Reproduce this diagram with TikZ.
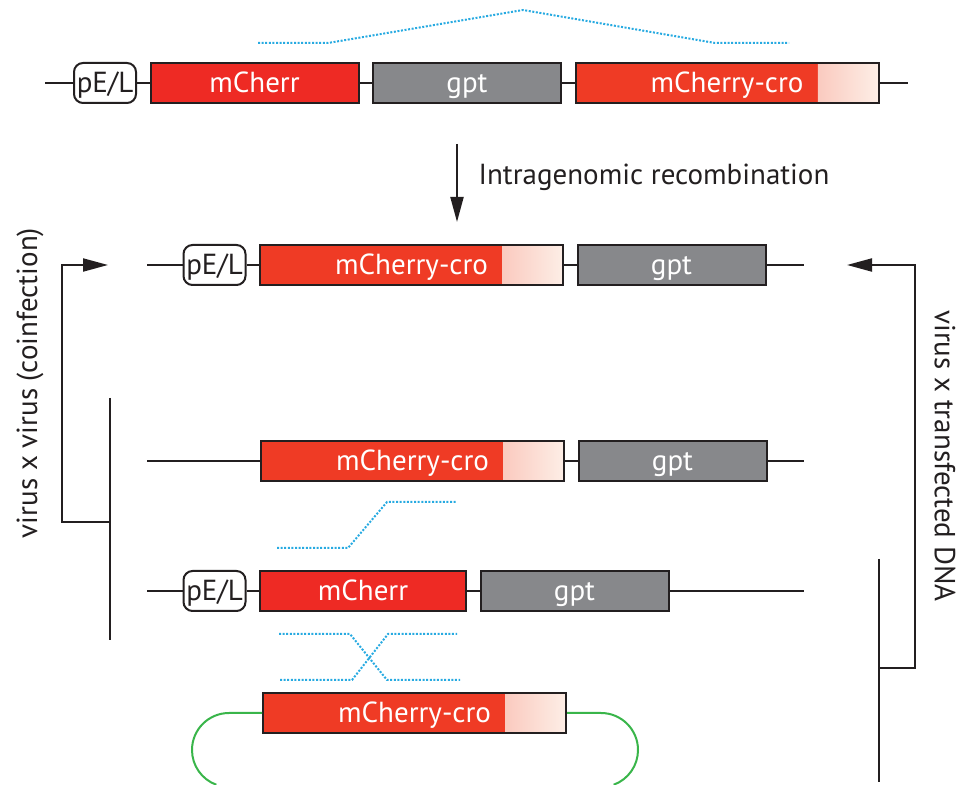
\documentclass[tikz,border=0pt]{standalone}
\usepackage{fontspec}
\setmainfont{PT Sans}
\usetikzlibrary{arrows.meta,positioning,calc}

\definecolor{outline}{RGB}{35,31,32}
\definecolor{mcred}{RGB}{238,42,36}
\definecolor{crored}{RGB}{239,59,37}
\definecolor{cromid}{RGB}{245,150,120}
\definecolor{crofade}{RGB}{253,238,230}
\definecolor{gptgray}{RGB}{135,136,139}
\definecolor{xblue}{RGB}{39,170,225}
\definecolor{plasgreen}{RGB}{57,181,74}

\tikzset{
  >={Triangle[length=12.5pt,width=6.5pt]},
  every picture/.append style={line width=1pt},
}
\newcommand{\genefont}{\fontsize{14.5}{16}\selectfont}
\newcommand{\labelfont}{\fontsize{14.5}{17}\selectfont}

\begin{document}
\begin{tikzpicture}[
  x=0.5pt, y=-0.5pt,
  node distance=6.25pt,
  gene/.style={rectangle, draw=outline, line width=1pt, minimum height=20pt, inner sep=0pt,
    text height=10pt, text depth=0pt, font=\genefont, text=white},
  mcherr/.style={gene, fill=mcred, minimum width=104pt},
  gpt/.style={gene, fill=gptgray, minimum width=94pt},
  crogene/.style={gene, fill=crored, minimum width=151.5pt,
    path picture={\shade[left color=crored, middle color=cromid, right color=crofade]
      ($(path picture bounding box.south west)!0.8!(path picture bounding box.south east)$)
      rectangle (path picture bounding box.north east);}},
  promoter/.style={rectangle, rounded corners=4.5pt, draw=outline, fill=white, minimum width=31pt, minimum height=20pt,
    inner sep=0pt, text height=10pt, text depth=0pt, font=\genefont, text=outline},
  backbone/.style={draw=outline, line width=1pt},
  xover/.style={draw=xblue, line width=1pt, dash pattern=on 1pt off 0.8pt},
  plasmid/.style={draw=plasgreen, line width=1pt},
  arrow/.style={->, line width=1pt, draw=outline},
  sidelabel/.style={font=\labelfont, text=outline}
]
\useasboundingbox (0,0) rectangle (959,785);

% --- parental genome ---
\node[promoter] (pelA) at (105,83) {pE/L};
\node[mcherr, right=of pelA] (mcA) {mCherr};
\node[gpt, right=of mcA] (gptA) {gpt};
\node[crogene, right=of gptA] (croA) {mCherry-cro};
\coordinate (l1) at (45,83);
\coordinate (r1) at (908,83);
\draw[backbone] (l1) -- (pelA) -- (mcA) -- (gptA) -- (croA) -- (r1);
\draw[xover] (258,43) -- (328,43) -- (523,10) -- (715,43) -- (789,43);

% --- recombination step ---
\coordinate (recTop) at (457,144);
\coordinate (recBot) at (457,222);
\draw[arrow] (recTop) -- (recBot);
\node[sidelabel, anchor=west] (rec) at (471,177) {Intragenomic recombination};

% --- recombinant genome ---
\node[promoter] (pelB) at (214.5,265) {pE/L};
\node[crogene, right=of pelB] (croB) {mCherry-cro};
\node[gpt, right=of croB] (gptB) {gpt};
\coordinate (l2) at (147,265);
\coordinate (r2) at (804,265);
\draw[backbone] (l2) -- (pelB) -- (croB) -- (gptB) -- (r2);

% --- virus x virus ---
\node[crogene, anchor=west] (croC) at (260,461) {mCherry-cro};
\node[gpt, right=of croC] (gptC) {gpt};
\coordinate (l3) at (147,461);
\coordinate (r3) at (804,461);
\draw[backbone] (l3) -- (croC) -- (gptC) -- (r3);
\draw[xover] (277,548) -- (348,548) -- (387,502) -- (457,502);

\node[promoter] (pelD) at (214.5,591) {pE/L};
\node[mcherr, right=of pelD, minimum width=103pt] (mcD) {mCherr};
\node[gpt, right=of mcD] (gptD) {gpt};
\coordinate (l4) at (147,591);
\coordinate (r4) at (804,591);
\draw[backbone] (l4) -- (pelD) -- (mcD) -- (gptD) -- (r4);

% --- virus x transfected DNA ---
\draw[xover] (279,634) -- (350,634) -- (387,680) -- (460,680);
\draw[xover] (280,680) -- (352,680) -- (388,634) -- (457,634);
\node[crogene, anchor=west] (croE) at (262,713) {mCherry-cro};
\draw[plasmid] (croE.west) -- ++(-33,0) arc[start angle=-90, end angle=-250, radius=37];
\draw[plasmid] (croE.east) -- ++(34,0) arc[start angle=-90, end angle=70, radius=37];

% --- brackets ---
\coordinate (vvTop) at (110,398);
\coordinate (vvBot) at (110,640);
\coordinate (vvMid) at (110,522);
\coordinate (vvTip) at (108,265);
\draw[backbone] (vvTop) -- (vvBot);
\draw[arrow] (vvMid) -- (62,522) |- (vvTip);
\node[sidelabel, rotate=90] (vv) at (30,383) {virus x virus (coinfection)};

\coordinate (tdTop) at (879,559);
\coordinate (tdBot) at (879,782);
\coordinate (tdMid) at (879,668);
\coordinate (tdTip) at (847,265);
\draw[backbone] (tdTop) -- (tdBot);
\draw[arrow] (tdMid) -| (915,265) -- (tdTip);
\node[sidelabel, rotate=-90] (td) at (945,456) {virus x transfected DNA};
\end{tikzpicture}
\end{document}
